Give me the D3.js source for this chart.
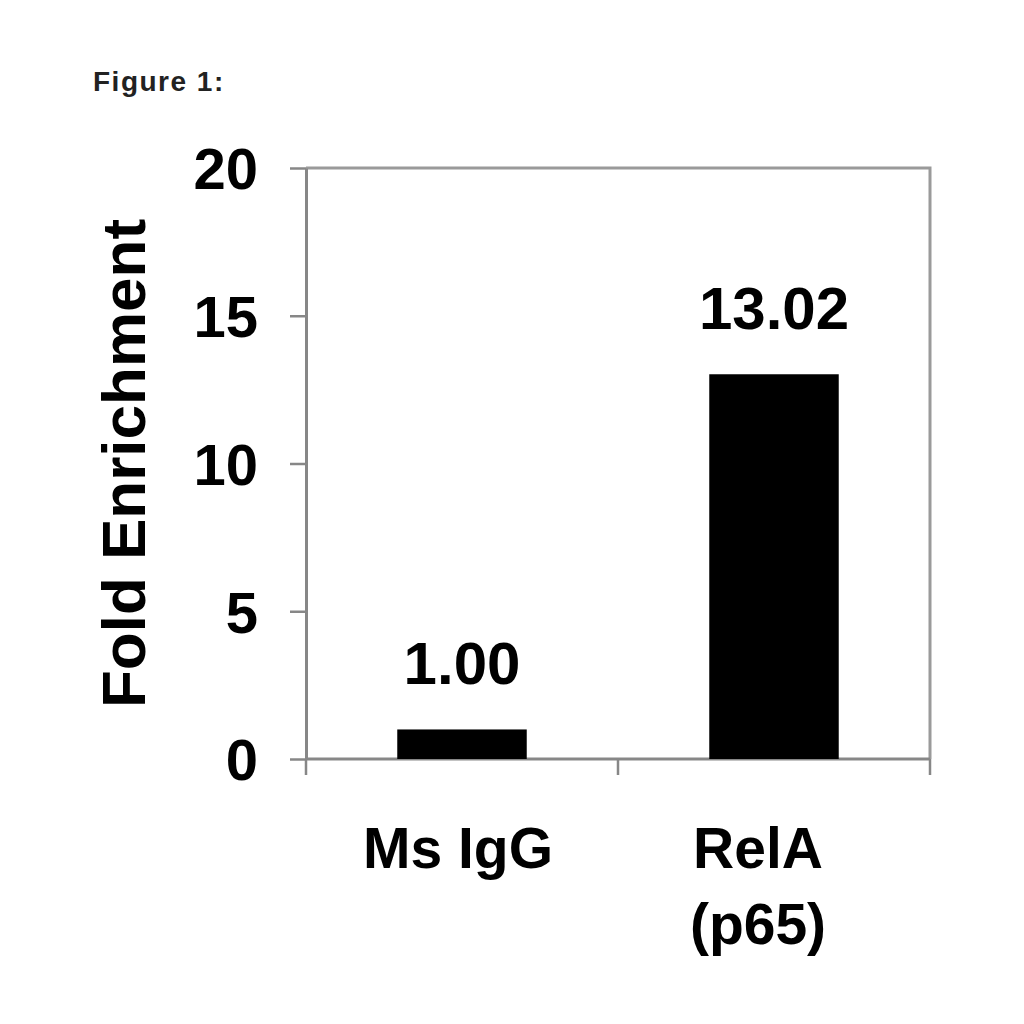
<!DOCTYPE html>
<html>
<head>
<meta charset="utf-8">
<script src="https://cdn.jsdelivr.net/npm/d3@7"></script>
<style>
	body { margin: 0; background: #fff; }
	text { font-family: "Liberation Sans", Arial, sans-serif; font-weight: bold; fill: #000; }
</style>
</head>
<body>
<svg id="chart"></svg>
<script>
// values
var categories = ['Ms IgG', 'RelA (p65)'];
var categoryLines = [['Ms IgG'], ['RelA', '(p65)']];
var foldValues = [1.00, 13.02];
var valueLabels = ['1.00', '13.02'];
var yTicks = [0, 5, 10, 15, 20];

var width = 1024;
var height = 1024;
var margin = {top: 168, right: 94, bottom: 265, left: 306};
var axisColor = '#878787';

var chart = d3.select('#chart')
	.attr('width', width)
	.attr('height', height);

var x = d3.scaleBand()
	.domain(categories)
	.range([margin.left, width - margin.right])
	.padding(0);

var y = d3.scaleLinear()
	.domain([0, 20])
	.range([height - margin.bottom, margin.top]);

var barWidth = x.bandwidth() * 0.415;

// figure caption
chart.append('text')
	.attr('x', 93)
	.attr('y', 91)
	.style('font-size', '28px')
	.style('letter-spacing', '1.5px')
	.style('fill', '#222')
	.text('Figure 1:');

// plot frame: top and right
chart.append('path')
	.attr('d', 'M' + margin.left + ',' + y(20) + 'H' + (width - margin.right) + 'V' + y(0))
	.attr('fill', 'none')
	.attr('stroke', '#9a9a9a')
	.attr('stroke-width', 3);

// y axis
var yAxis = chart.append('g')
	.attr('transform', 'translate(' + margin.left + ',0)')
	.call(d3.axisLeft(y).tickValues(yTicks).tickSize(16).tickPadding(32).tickSizeOuter(0));

yAxis.select('.domain').attr('stroke', axisColor).attr('stroke-width', 3);
yAxis.selectAll('.tick line').attr('stroke', axisColor).attr('stroke-width', 2.5);
yAxis.selectAll('.tick text')
	.attr('fill', '#000')
	.attr('dy', '0.36em')
	.style('font-size', '58px')
	.style('font-family', '"Liberation Sans", Arial, sans-serif')
	.style('font-weight', 'bold');

// x axis: baseline, ticks on band edges
var xAxis = chart.append('g')
	.attr('transform', 'translate(0,' + y(0) + ')');

xAxis.append('line')
	.attr('x1', margin.left)
	.attr('x2', width - margin.right)
	.attr('stroke', axisColor)
	.attr('stroke-width', 3);

var edges = categories.map(function(d) { return x(d); });
edges.push(x(categories[categories.length - 1]) + x.bandwidth());

xAxis.selectAll('line.edge')
	.data(edges)
	.enter()
	.append('line')
	.attr('class', 'edge')
	.attr('x1', function(d) { return d; })
	.attr('x2', function(d) { return d; })
	.attr('y1', 0)
	.attr('y2', 16)
	.attr('stroke', axisColor)
	.attr('stroke-width', 2.5);

// bars
chart.selectAll('rect.bar')
	.data(foldValues)
	.enter()
	.append('rect')
	.attr('class', 'bar')
	.attr('x', function(d, i) { return x(categories[i]) + (x.bandwidth() - barWidth) / 2; })
	.attr('y', function(d) { return y(d); })
	.attr('width', barWidth)
	.attr('height', function(d) { return y(0) - y(d); })
	.attr('fill', '#000');

// value labels
chart.selectAll('text.value')
	.data(foldValues)
	.enter()
	.append('text')
	.attr('class', 'value')
	.attr('x', function(d, i) { return x(categories[i]) + x.bandwidth() / 2; })
	.attr('y', function(d) { return y(d) - 45; })
	.attr('text-anchor', 'middle')
	.style('font-size', '60px')
	.text(function(d, i) { return valueLabels[i]; });

// category labels
var catLabels = chart.selectAll('text.cat')
	.data(categoryLines)
	.enter()
	.append('text')
	.attr('class', 'cat')
	.attr('text-anchor', 'middle')
	.style('font-size', '57px')
	.attr('transform', function(d, i) {
		var shift = i === 0 ? -4 : -16;
		return 'translate(' + (x(categories[i]) + x.bandwidth() / 2 + shift) + ',868)';
	});

catLabels.selectAll('tspan')
	.data(function(d) { return d; })
	.enter()
	.append('tspan')
	.attr('x', 0)
	.attr('dy', function(d, i) { return i === 0 ? 0 : 76; })
	.text(function(d) { return d; });

// y axis title
chart.append('text')
	.attr('transform', 'translate(145,' + ((y(0) + y(20)) / 2) + ') rotate(-90)')
	.attr('text-anchor', 'middle')
	.style('font-size', '62px')
	.text('Fold Enrichment');
</script>
</body>
</html>
